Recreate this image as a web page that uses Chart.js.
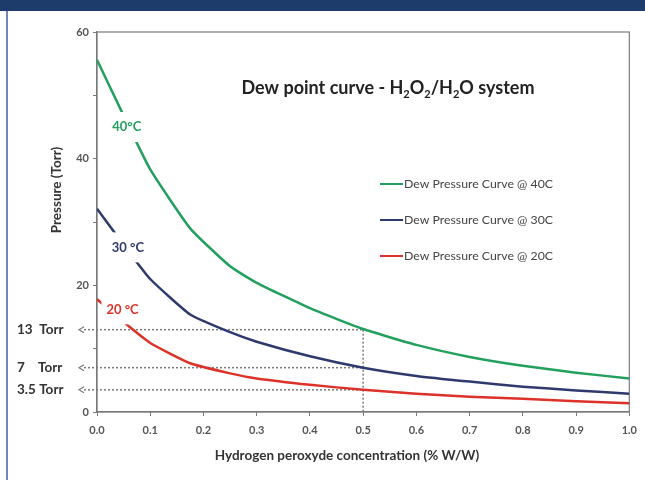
<!DOCTYPE html>
<html>
<head>
<meta charset="utf-8">
<script src="https://cdn.jsdelivr.net/npm/chart.js@4.4.0/dist/chart.umd.min.js"></script>
<style>
  html, body { margin: 0; padding: 0; background: #fff; }
  canvas { display: block; }
</style>
</head>
<body>
<canvas id="mycanvas" width="645" height="480"></canvas>
<script>
// H2O2 concentration (% W/W) and dew pressure (Torr)
var concentration = [0, 0.05, 0.1, 0.175, 0.25, 0.3, 0.4, 0.5, 0.6, 0.7, 0.8, 0.9, 1.0];
var dew40 = [55.6, 46.8, 38.3, 29.0, 23.0, 20.4, 16.4, 13.1, 10.6, 8.7, 7.3, 6.2, 5.3];
var dew30 = [32.1, 26.4, 21.0, 15.4, 12.6, 11.1, 8.8, 7.0, 5.7, 4.8, 4.0, 3.4, 2.9];
var dew20 = [17.8, 14.2, 10.9, 7.7, 6.1, 5.3, 4.3, 3.5, 2.9, 2.4, 2.1, 1.7, 1.4];

var seriesNames = ["Dew Pressure Curve @ 40C", "Dew Pressure Curve @ 30C", "Dew Pressure Curve @ 20C"];
var curveLabels = ["40°C", "30 °C", "20 °C"];
// where the curve labels sit (data coords)
var curveLabelX = [0.056, 0.058, 0.048];
var curveLabelY = [45, 26, 16.2];

// reference levels marked on the chart
var refLevels = [13, 7, 3.5];
var refNames = ["13  Torr", "7    Torr", "3.5 Torr"];
var refConcentration = 0.5;

var colors = ["#23a05e", "#2e3a6d", "#dd3229"];
var FONT = "Lato, 'Open Sans', sans-serif";

function points(ys) {
	var out = [];
	for (var i in ys) {
		out.push({x: concentration[i], y: ys[i]});
	}
	return out;
}

var chartdata = {
	datasets: [
		{label: seriesNames[0], data: points(dew40), borderColor: colors[0]},
		{label: seriesNames[1], data: points(dew30), borderColor: colors[1]},
		{label: seriesNames[2], data: points(dew20), borderColor: colors[2]}
	]
};

var decor = {
	id: "decor",
	beforeDraw: function(chart) {
		var ctx = chart.ctx;
		ctx.save();
		ctx.fillStyle = "#fff";
		ctx.fillRect(0, 0, chart.width, chart.height);
		// page header band and left rule
		ctx.fillStyle = "#1d3c6c";
		ctx.fillRect(0, 0, chart.width, 11);
		ctx.fillStyle = "#6d89b8";
		ctx.fillRect(6, 11, 2, chart.height - 11);
		ctx.restore();
	},
	beforeDatasetsDraw: function(chart) {
		var ctx = chart.ctx;
		var a = chart.chartArea;
		var xs = chart.scales.x, ys = chart.scales.y;
		ctx.save();
		// frame
		ctx.strokeStyle = "#7a7a7a";
		ctx.lineWidth = 1.2;
		ctx.strokeRect(a.left, a.top, a.right - a.left, a.bottom - a.top);
		// dotted reference lines
		var xr = xs.getPixelForValue(refConcentration);
		ctx.strokeStyle = "#7a7a7a";
		ctx.lineWidth = 1.5;
		ctx.setLineDash([2, 2]);
		for (var i in refLevels) {
			var py = ys.getPixelForValue(refLevels[i]);
			ctx.beginPath();
			ctx.moveTo(84, py);
			ctx.lineTo(xr, py);
			ctx.stroke();
		}
		ctx.beginPath();
		ctx.moveTo(xr, ys.getPixelForValue(refLevels[0]));
		ctx.lineTo(xr, a.bottom);
		ctx.stroke();
		ctx.setLineDash([]);
		// arrow heads and level labels
		ctx.lineWidth = 1.2;
		ctx.fillStyle = "#333";
		ctx.font = "bold 13.5px " + FONT;
		ctx.textBaseline = "middle";
		ctx.textAlign = "left";
		for (var i in refLevels) {
			var py = ys.getPixelForValue(refLevels[i]);
			ctx.beginPath();
			ctx.moveTo(84, py - 3);
			ctx.lineTo(79, py);
			ctx.lineTo(84, py + 3);
			ctx.stroke();
			ctx.fillText(refNames[i], 17, py);
		}
		ctx.restore();
	},
	afterDatasetsDraw: function(chart) {
		var ctx = chart.ctx;
		var a = chart.chartArea;
		var xs = chart.scales.x, ys = chart.scales.y;
		ctx.save();
		// curve labels on white boxes
		ctx.font = "bold 13px " + FONT;
		ctx.textBaseline = "middle";
		ctx.textAlign = "center";
		for (var i in curveLabels) {
			var px = xs.getPixelForValue(curveLabelX[i]);
			var py = ys.getPixelForValue(curveLabelY[i]);
			var w = ctx.measureText(curveLabels[i]).width;
			ctx.fillStyle = "#fff";
			ctx.fillRect(px - w / 2 - 5, py - 15, w + 10, 30);
			ctx.fillStyle = colors[i];
			ctx.fillText(curveLabels[i], px, py);
		}
		// legend
		ctx.font = "12.3px " + FONT;
		ctx.textAlign = "left";
		var legY = [184, 220, 256];
		for (var i in chart.data.datasets) {
			ctx.strokeStyle = colors[i];
			ctx.lineWidth = 2;
			ctx.beginPath();
			ctx.moveTo(380, legY[i]);
			ctx.lineTo(403, legY[i]);
			ctx.stroke();
			ctx.fillStyle = "#444";
			ctx.fillText(chart.data.datasets[i].label, 404, legY[i]);
		}
		// title with subscripts
		var parts = [["Dew point curve - H", 0], ["2", 1], ["O", 0], ["2", 1], ["/H", 0], ["2", 1], ["O system", 0]];
		var big = "bold 18px " + FONT, small = "bold 11px " + FONT;
		var total = 0;
		for (var i in parts) {
			ctx.font = parts[i][1] ? small : big;
			total += ctx.measureText(parts[i][0]).width;
		}
		var tx = 388 - total / 2;
		ctx.fillStyle = "#222";
		ctx.textBaseline = "alphabetic";
		for (var i in parts) {
			ctx.font = parts[i][1] ? small : big;
			ctx.fillText(parts[i][0], tx, parts[i][1] ? 98 : 94);
			tx += ctx.measureText(parts[i][0]).width;
		}
		// axis titles
		ctx.font = "bold 13.5px " + FONT;
		ctx.fillStyle = "#333";
		ctx.textAlign = "center";
		ctx.textBaseline = "middle";
		ctx.fillText("Hydrogen peroxyde concentration (% W/W)", 347, 456);
		ctx.translate(57, 190);
		ctx.rotate(-Math.PI / 2);
		ctx.fillText("Pressure (Torr)", 0, 0);
		ctx.restore();
	}
};

var ctx = document.getElementById("mycanvas");

var LineGraph = new Chart(ctx, {
	type: "line",
	data: chartdata,
	plugins: [decor],
	options: {
		responsive: false,
		animation: false,
		layout: {padding: {left: 0, top: 32, right: 8, bottom: 0}},
		elements: {
			line: {borderWidth: 2.5, tension: 0.15, fill: false},
			point: {radius: 0}
		},
		plugins: {
			legend: {display: false},
			tooltip: {enabled: false}
		},
		scales: {
			x: {
				type: "linear",
				min: 0,
				max: 1,
				afterFit: function(s) { s.height = 68; },
				border: {color: "#7a7a7a", width: 1.2},
				grid: {drawOnChartArea: false, tickLength: 4, color: "#7a7a7a"},
				ticks: {
					stepSize: 0.1,
					padding: 8,
					color: "#555",
					font: {family: FONT, size: 11, weight: "bold"},
					callback: function(v) { return v.toFixed(1); }
				}
			},
			y: {
				min: 0,
				max: 60,
				afterFit: function(s) { s.width = 97; },
				border: {color: "#7a7a7a", width: 1.2},
				grid: {drawOnChartArea: false, tickLength: 4, color: "#7a7a7a"},
				ticks: {
					stepSize: 10,
					padding: 4,
					color: "#555",
					font: {family: FONT, size: 11, weight: "bold"},
					callback: function(v) { return v % 20 === 0 ? v : ""; }
				}
			}
		}
	}
});
</script>
</body>
</html>
